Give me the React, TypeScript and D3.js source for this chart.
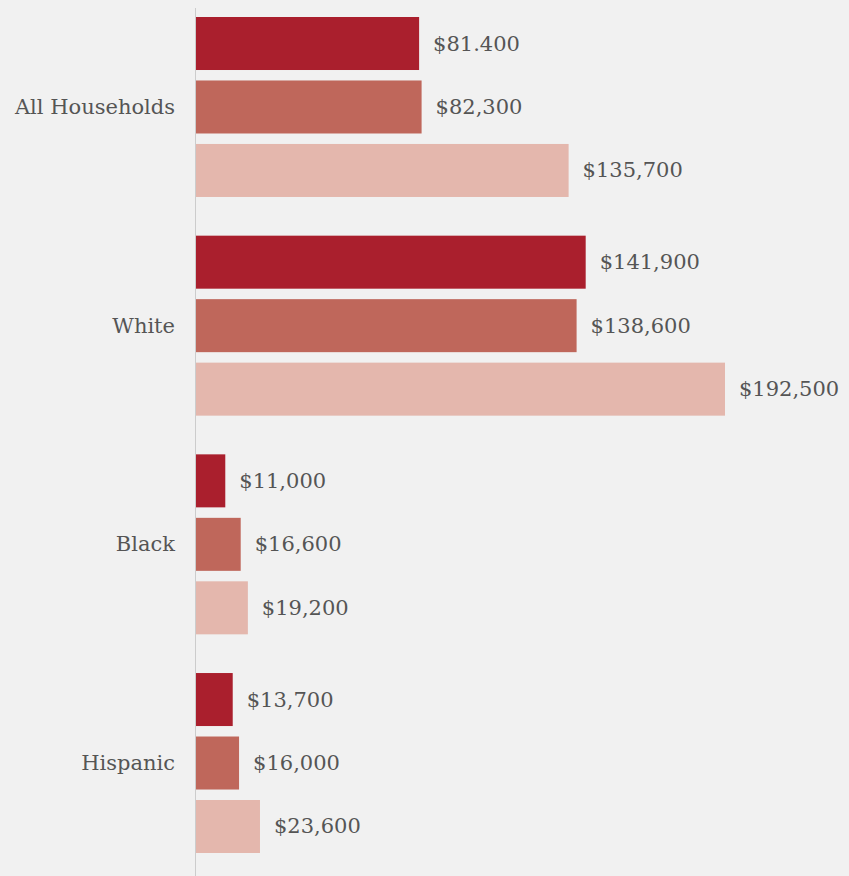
import React from "react";
import * as d3 from "d3";

const categories = ["All Households", "White", "Black", "Hispanic"];
const seriesKeys = ["s1", "s2", "s3"];
const series1 = [81400, 141900, 11000, 13700];
const series2 = [82300, 138600, 16600, 16000];
const series3 = [135700, 192500, 19200, 23600];
const labels1 = ["$81.400", "$141,900", "$11,000", "$13,700"];
const labels2 = ["$82,300", "$138,600", "$16,600", "$16,000"];
const labels3 = ["$135,700", "$192,500", "$19,200", "$23,600"];

const W = 849;
const H = 876;
const colors = ["#aa1f2d", "#bf675b", "#e4b7ad"];
const font = "'DejaVu Serif', serif";

export default function App() {
  React.useEffect(() => {
    document.body.style.margin = "0";
    document.body.style.background = "#f1f1f1";
  }, []);

  const values = [series1, series2, series3];
  const labels = [labels1, labels2, labels3];

  const x = d3.scaleLinear().domain([0, 192500]).range([195, 725]);
  const y0 = d3.scaleBand().domain(categories).range([17, 853]).paddingInner(0.177).paddingOuter(0);
  const y1 = d3.scaleBand().domain(seriesKeys).range([0, y0.bandwidth()]).paddingInner(0.165).paddingOuter(0);

  return (
    <svg width={W} height={H} style={{ display: "block" }}>
      <rect x={0} y={0} width={W} height={H} fill="#f1f1f1" />
      {categories.map((c, ci) => (
        <g key={c} transform={`translate(0,${y0(c)})`}>
          {seriesKeys.map((k, si) => {
            const v = values[si][ci];
            const yy = y1(k) as number;
            return (
              <g key={k}>
                <rect x={x(0)} y={yy} width={x(v) - x(0)} height={y1.bandwidth()} fill={colors[si]} />
                <text
                  x={x(v) + 14}
                  y={yy + y1.bandwidth() / 2}
                  dominantBaseline="central"
                  fontFamily={font}
                  fontSize={21}
                  fill="#555555"
                >
                  {labels[si][ci]}
                </text>
              </g>
            );
          })}
          <text
            x={175}
            y={y0.bandwidth() / 2}
            textAnchor="end"
            dominantBaseline="central"
            fontFamily={font}
            fontSize={21}
            fill="#555555"
          >
            {c}
          </text>
        </g>
      ))}
      <line x1={195.5} x2={195.5} y1={8} y2={H} stroke="#cccccc" strokeWidth={1} />
    </svg>
  );
}
